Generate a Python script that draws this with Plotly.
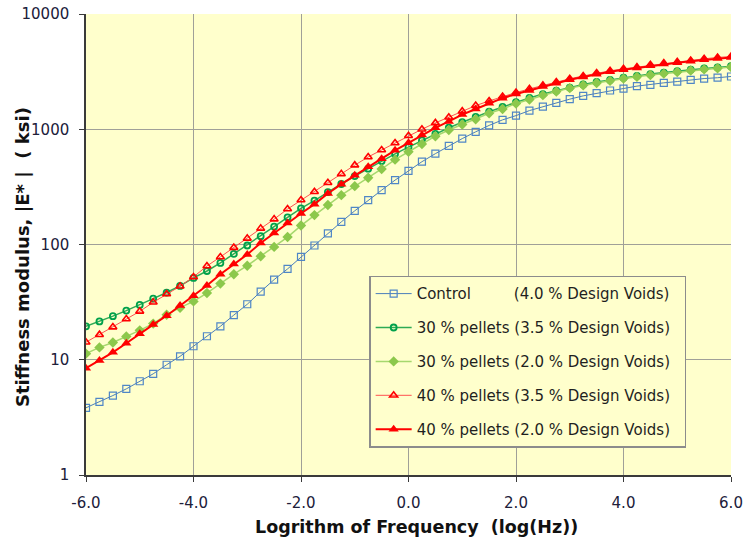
import plotly.graph_objects as go

log_freq = [-6.0, -5.75, -5.5, -5.25, -5.0, -4.75, -4.5, -4.25, -4.0, -3.75, -3.5, -3.25,
            -3.0, -2.75, -2.5, -2.25, -2.0, -1.75, -1.5, -1.25, -1.0, -0.75, -0.5, -0.25,
            0.0, 0.25, 0.5, 0.75, 1.0, 1.25, 1.5, 1.75, 2.0, 2.25, 2.5, 2.75, 3.0, 3.25,
            3.5, 3.75, 4.0, 4.25, 4.5, 4.75, 5.0, 5.25, 5.5, 5.75, 6.0]

control = [3.83, 4.31, 4.89, 5.59, 6.51, 7.55, 9.05, 10.7, 13.1, 16.0, 19.5, 24.4,
           30.3, 39, 49.6, 61.4, 78, 98, 125, 157, 196, 243, 296, 362,
           436, 523, 614, 716, 830, 950, 1080, 1206, 1313, 1452, 1573, 1694, 1824, 1949,
           2056, 2168, 2256, 2367, 2428, 2528, 2594, 2684, 2754, 2800, 2870]

p30_35 = [19.5, 21.5, 23.9, 26.7, 29.9, 33.9, 38.3, 43.7, 51.3, 58.9, 69.2, 82.9,
          98, 118, 143, 172, 206, 240, 285, 335, 392, 455, 530, 612,
          700, 800, 910, 1030, 1150, 1280, 1420, 1560, 1720, 1870, 2020, 2160, 2300, 2450,
          2570, 2680, 2800, 2900, 3010, 3100, 3200, 3290, 3370, 3440, 3520]

p30_20 = [11.3, 12.8, 14.1, 15.9, 18.0, 20.6, 24.6, 28.3, 32.1, 37.9, 45.8, 55.2,
          65.5, 79, 95.3, 116, 146, 180, 220, 268, 321, 380, 452, 545,
          638, 743, 870, 986, 1100, 1222, 1377, 1500, 1670, 1810, 1976, 2124, 2274, 2410,
          2520, 2630, 2750, 2850, 2960, 3040, 3140, 3230, 3310, 3380, 3460]

p40_35 = [14.2, 16.5, 19.2, 22.6, 26.3, 31.5, 37.2, 43.4, 52.3, 65.1, 78, 94,
          113, 138, 166, 203, 243, 287, 343, 410, 488, 575, 661, 760,
          878, 1000, 1135, 1271, 1435, 1604, 1760, 1920, 2080, 2240, 2400, 2570, 2740, 2900,
          3070, 3214, 3345, 3459, 3624, 3745, 3843, 3951, 4086, 4197, 4277]

p40_20 = [8.45, 9.86, 11.6, 13.9, 16.8, 20.2, 24.1, 29.5, 36.0, 44.0, 55.2, 67.8,
          82, 103, 126, 154, 186, 224, 277, 334, 398, 473, 556, 656,
          765, 890, 1030, 1170, 1340, 1500, 1683, 1860, 2020, 2166, 2346, 2510, 2684, 2840,
          3000, 3150, 3280, 3400, 3560, 3680, 3780, 3890, 4000, 4110, 4200]

NB = "\u00a0"
names = [
    "Control" + NB * 9 + "(4.0 % Design Voids)" + NB * 2,
    "30 % pellets (3.5 % Design Voids)" + NB * 2,
    "30 % pellets (2.0 % Design Voids)" + NB * 2,
    "40 % pellets (3.5 % Design Voids)" + NB * 2,
    "40 % pellets (2.0 % Design Voids)" + NB * 2,
]
x_ticks = [-6, -4, -2, 0, 2, 4, 6]
x_tick_text = ["-6.0", "-4.0", "-2.0", "0.0", "2.0", "4.0", "6.0"]
y_ticks = [1, 10, 100, 1000, 10000]
y_tick_text = ["1", "10", "100", "1000", "10000"]
x_title = "Logrithm of Frequency" + NB * 2 + "(log(Hz))"
y_title = "Stiffness modulus, |E*" + NB + "|" + NB * 2 + "(" + NB + "ksi)"

fig = go.Figure()
styles = [
    (control, dict(color="#4a7ebb", width=1),
     dict(symbol="square-open", size=7, color="#4f86c6", line=dict(width=1.2))),
    (p30_35, dict(color="#2eaa55", width=1.5),
     dict(symbol="circle-open", size=6, color="#00a14b", line=dict(width=1.8))),
    (p30_20, dict(color="#a6d86e", width=1.5),
     dict(symbol="diamond", size=8, color="#8cc84b", line=dict(width=0))),
    (p40_35, dict(color="#ff5050", width=1),
     dict(symbol="triangle-up-open", size=7, color="#ff0000", line=dict(width=1.6))),
    (p40_20, dict(color="#ff0000", width=2),
     dict(symbol="triangle-up", size=9, color="#ff0000", line=dict(width=0))),
]
for i, (name, (vals, ln, mk)) in enumerate(zip(names, styles)):
    fig.add_trace(go.Scatter(x=log_freq, y=vals, mode="lines+markers", name=name,
                             line=ln, marker=mk, legendgroup="g%d" % i))

font_family = "DejaVu Sans, sans-serif"
fig.update_layout(
    width=747, height=548,
    margin=dict(l=86, r=16, t=14, b=73, autoexpand=False),
    paper_bgcolor="white",
    plot_bgcolor="#ffffcc",
    font=dict(family=font_family, size=15, color="#20203a"),
    showlegend=True,
    legend=dict(
        x=0.439, y=0.432, xanchor="left", yanchor="top",
        bgcolor="#ffffcc", bordercolor="#8c8c8c", borderwidth=1.5,
        font=dict(family=font_family, size=15, color="#1f1f1f"),
        itemwidth=36, tracegroupgap=11.4,
    ),
    xaxis=dict(
        range=[-6, 6], tickvals=x_ticks, ticktext=x_tick_text,
        showgrid=True, gridcolor="#a0a098", gridwidth=1,
        showline=True, linecolor="#3a3a3a", linewidth=1.5,
        ticks="outside", ticklen=5, tickcolor="#3a3a3a",
        ticklabelstandoff=8,
        zeroline=False, automargin=False,
    ),
    yaxis=dict(
        type="log", range=[0, 4], tickvals=y_ticks, ticktext=y_tick_text,
        showgrid=True, gridcolor="#a0a098", gridwidth=1,
        showline=True, linecolor="#3a3a3a", linewidth=1.5,
        ticks="outside", ticklen=5, tickcolor="#3a3a3a",
        ticklabelstandoff=7,
        zeroline=False, automargin=False,
    ),
    annotations=[
        dict(text="<b>" + x_title + "</b>", xref="paper", yref="paper",
             x=0.512, y=0, xanchor="center", yanchor="middle", yshift=-52,
             showarrow=False,
             font=dict(family=font_family, size=17.5, color="#111111")),
        dict(text="<b>" + y_title + "</b>", xref="paper", yref="paper",
             x=0, y=0.473, xanchor="center", yanchor="middle", xshift=-63,
             textangle=-90, showarrow=False,
             font=dict(family=font_family, size=18, color="#111111")),
    ],
)
fig.write_html("out.html", config={"displayModeBar": False},
               post_script="document.body.style.margin='0';document.body.style.overflow='hidden';")
